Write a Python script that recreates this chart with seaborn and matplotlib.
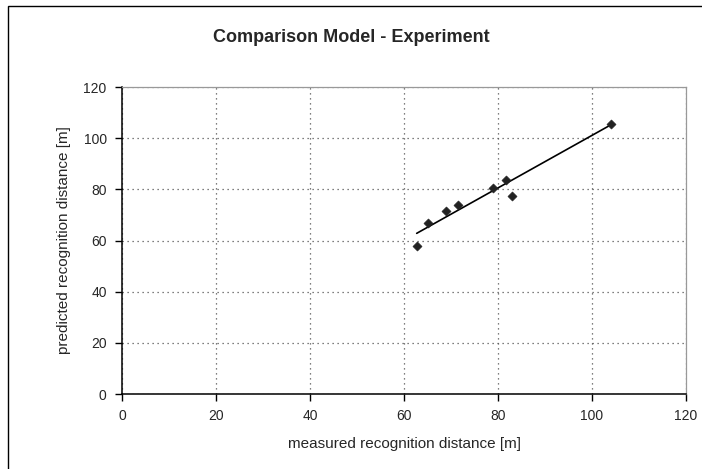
import numpy as np
import pandas as pd
import matplotlib
matplotlib.use("Agg")
import matplotlib.pyplot as plt
import seaborn as sns
from matplotlib.patches import Rectangle

measured = [62.7, 65.0, 69.0, 71.5, 79.0, 81.7, 83.0, 104.0]
predicted = [57.9, 66.7, 71.7, 74.0, 80.7, 83.7, 77.3, 105.7]
trend_x = [62.7, 104.0]
trend_y = [62.8, 105.2]
ticks = [0, 20, 40, 60, 80, 100, 120]

sns.set_theme(style="white")
plt.rcParams['font.family'] = ['Liberation Sans', 'DejaVu Sans']

df = pd.DataFrame({"measured": measured, "predicted": predicted})
tr = pd.DataFrame({"x": trend_x, "y": trend_y})

fig = plt.figure(figsize=(7.02, 4.69), dpi=100)
W, H = 702, 469
ax = fig.add_axes([122 / W, 1 - 394 / H, (686 - 122) / W, (394 - 87) / H])

# outer chart frame (only left and top edges fall inside the image)
fig.patches.append(Rectangle((8 / W, -10 / H), 710 / W, (H + 4) / H, transform=fig.transFigure,
                             fill=False, edgecolor="black", linewidth=1.0))

sns.lineplot(data=tr, x="x", y="y", ax=ax, color="black", linewidth=1.2)
sns.scatterplot(data=df, x="measured", y="predicted", ax=ax, marker="D", s=22,
                color="#222222", edgecolor="#222222", zorder=5)

ax.set_xlim(0, 120)
ax.set_ylim(0, 120)
ax.set_xticks(ticks)
ax.set_yticks(ticks)
ax.set_xticklabels([str(t) for t in ticks], fontsize=10)
ax.set_yticklabels([str(t) for t in ticks], fontsize=10)
ax.grid(True, color="#555555", linestyle=(0, (1, 3)), linewidth=0.9)
ax.tick_params(axis="both", direction="out", length=5, width=1, color="black",
               bottom=True, left=True, pad=6)
for s in ["left", "bottom"]:
    ax.spines[s].set_color("black")
    ax.spines[s].set_linewidth(1.1)
for s in ["top", "right"]:
    ax.spines[s].set_color("#999999")
    ax.spines[s].set_linewidth(0.9)

ax.set_xlabel("measured recognition distance [m]", fontsize=11, labelpad=10)
ax.set_ylabel("predicted recognition distance [m]", fontsize=11, labelpad=9)
fig.text(351 / W, 1 - 37 / H, "Comparison Model - Experiment", ha="center", va="center",
         fontsize=13, fontweight="bold")

fig.savefig("out.png", dpi=100)
